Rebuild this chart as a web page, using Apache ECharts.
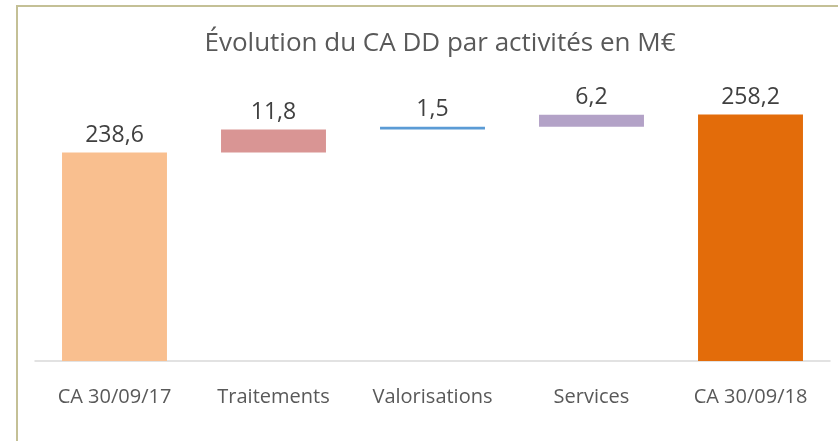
<!DOCTYPE html>
<html>
<head>
<meta charset="utf-8">
<script src="https://cdn.jsdelivr.net/npm/echarts@6/dist/echarts.min.js"></script>
<style>
  html, body { margin: 0; padding: 0; background: #fff; }
  #main { width: 838px; height: 441px; position: absolute; left: 0; top: 0; }
  .frame {
    position: absolute; left: 16px; top: 5px; width: 830px; height: 440px;
    border-top: 2px solid #c4c096; border-left: 2px solid #c4c096;
    pointer-events: none;
  }
</style>
</head>
<body>
<div id="main"></div>
<div class="frame"></div>
<script>
// données du graphique
var categories = ['CA 30/09/17', 'Traitements', 'Valorisations', 'Services', 'CA 30/09/18'];
var values = [238.6, 11.8, 1.5, 6.2, 258.2];
var isTotal = [true, false, false, false, true];
var barColors = ['#f9bf8f', '#d99594', '#5b9bd5', '#b3a2c7', '#e36c0a'];

// base invisible pour la cascade
var base = [];
var running = 0;
values.forEach(function (v, i) {
  if (isTotal[i]) {
    base.push(0);
    running = v;
  } else {
    base.push(running);
    running += v;
  }
});

var myChart = echarts.init(document.getElementById('main'));
myChart.setOption({
  animation: false,
  textStyle: { fontFamily: 'Open Sans' },
  title: {
    text: 'Évolution du CA DD par activités en M€',
    left: 435,
    textAlign: 'center',
    top: 26,
    textStyle: { fontSize: 26, fontWeight: 'normal', color: '#595959', fontFamily: 'Open Sans' }
  },
  grid: { left: 35, right: 8, top: 111, bottom: 80 },
  xAxis: {
    type: 'category',
    data: categories,
    axisTick: { show: false },
    axisLine: { lineStyle: { color: '#d9d9d9', width: 1.5 } },
    axisLabel: { color: '#595959', fontSize: 20, margin: 26, interval: 0 }
  },
  yAxis: {
    type: 'value',
    min: 131,
    max: 260,
    show: false,
    splitLine: { show: false }
  },
  series: [
    {
      type: 'bar',
      stack: 'cascade',
      data: base,
      itemStyle: { color: 'transparent' },
      silent: true,
      barCategoryGap: '34%'
    },
    {
      type: 'bar',
      stack: 'cascade',
      barCategoryGap: '34%',
      data: values.map(function (v, i) {
        return { value: v, itemStyle: { color: barColors[i] } };
      }),
      label: {
        show: true,
        position: 'top',
        distance: 6,
        color: '#404040',
        fontSize: 23,
        formatter: function (p) { return String(p.value).replace('.', ','); }
      }
    }
  ]
});
window.onresize = function () { myChart.resize(); };
</script>
</body>
</html>
